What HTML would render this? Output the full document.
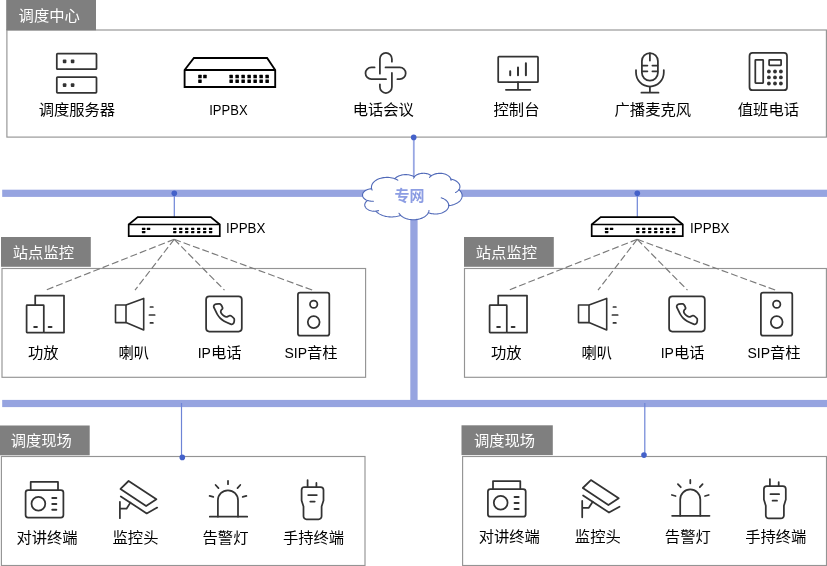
<!DOCTYPE html><html><head><meta charset="utf-8"><title>调度系统拓扑</title><style>html,body{margin:0;padding:0;background:#fff}svg{display:block;will-change:transform}text{font-family:"Liberation Sans","Noto Sans CJK SC",sans-serif}</style></head><body>
<svg width="827" height="566" viewBox="0 0 827 566">
<rect width="827" height="566" fill="#fff"/>
<rect x="2.2" y="189.7" width="826" height="7.2" fill="#96a4e0"/>
<rect x="2.2" y="399.9" width="826" height="7.2" fill="#96a4e0"/>
<rect x="410.3" y="193" width="7.3" height="210" fill="#96a4e0"/>
<rect x="6.9" y="30" width="819.5" height="107.1" fill="#fff" stroke="#949494" stroke-width="1.15"/>
<rect x="6.2" y="-0.5" width="89.8" height="30.8" fill="#7f7f7f"/>
<text x="18.6" y="20.6" font-size="15.3" fill="#fff">调度中心</text>
<line x1="413.8" y1="137.5" x2="413.8" y2="178.5" stroke="#98a7e3" stroke-width="1.8"/>
<path d="M371.58,188.58 L371.45,187.66 L371.46,186.75 L371.60,185.83 L371.88,184.93 L372.28,184.05 L372.82,183.19 L373.47,182.37 L374.25,181.60 L375.13,180.87 L376.12,180.19 L377.20,179.58 L378.37,179.04 L379.61,178.56 L380.91,178.17 L382.27,177.85 L383.67,177.61 L385.10,177.45 L386.54,177.39 L387.99,177.40 L389.43,177.50 L390.85,177.69 L392.23,177.96 L393.57,178.31 L394.86,178.73 L395.34,178.21 L395.88,177.71 L396.48,177.25 L397.13,176.81 L397.84,176.40 L398.59,176.03 L399.39,175.70 L400.22,175.41 L401.09,175.16 L401.99,174.96 L402.90,174.80 L403.84,174.68 L404.78,174.61 L405.74,174.59 L406.69,174.62 L407.63,174.69 L408.56,174.81 L409.48,174.97 L410.37,175.18 L411.24,175.43 L412.07,175.72 L412.87,176.06 L413.62,176.43 L414.32,176.83 L414.73,176.36 L415.20,175.91 L415.73,175.49 L416.32,175.10 L416.95,174.74 L417.63,174.42 L418.35,174.13 L419.11,173.89 L419.89,173.68 L420.70,173.52 L421.53,173.40 L422.37,173.33 L423.22,173.30 L424.07,173.32 L424.91,173.38 L425.74,173.49 L426.56,173.64 L427.35,173.84 L428.11,174.07 L428.84,174.35 L429.53,174.66 L430.17,175.01 L430.77,175.40 L431.31,175.81 L432.03,175.32 L432.82,174.88 L433.67,174.49 L434.57,174.15 L435.52,173.86 L436.51,173.63 L437.53,173.46 L438.57,173.36 L439.62,173.31 L440.67,173.33 L441.72,173.41 L442.75,173.55 L443.75,173.76 L444.72,174.02 L445.65,174.34 L446.52,174.71 L447.33,175.13 L448.08,175.60 L448.76,176.11 L449.35,176.66 L449.87,177.24 L450.29,177.85 L450.62,178.49 L450.86,179.14 L451.69,179.30 L452.51,179.50 L453.30,179.74 L454.06,180.02 L454.79,180.33 L455.48,180.67 L456.13,181.04 L456.74,181.44 L457.30,181.86 L457.82,182.31 L458.28,182.78 L458.69,183.28 L459.04,183.78 L459.34,184.31 L459.57,184.84 L459.75,185.39 L459.86,185.94 L459.91,186.50 L459.90,187.05 L459.82,187.61 L459.69,188.16 L459.49,188.70 L459.23,189.23 L458.92,189.75 L459.70,190.45 L460.37,191.20 L460.95,191.98 L461.41,192.78 L461.77,193.61 L462.01,194.46 L462.13,195.31 L462.13,196.17 L462.02,197.03 L461.79,197.88 L461.45,198.71 L460.99,199.52 L460.43,200.30 L459.76,201.04 L458.99,201.75 L458.13,202.41 L457.18,203.03 L456.15,203.58 L455.04,204.08 L453.88,204.52 L452.65,204.89 L451.39,205.19 L450.08,205.42 L448.75,205.58 L448.69,206.33 L448.52,207.07 L448.26,207.79 L447.89,208.50 L447.43,209.19 L446.87,209.85 L446.22,210.47 L445.49,211.05 L444.68,211.59 L443.80,212.09 L442.85,212.53 L441.84,212.92 L440.79,213.25 L439.69,213.52 L438.56,213.73 L437.40,213.87 L436.23,213.95 L435.06,213.96 L433.88,213.91 L432.72,213.79 L431.58,213.60 L430.47,213.36 L429.40,213.05 L428.37,212.68 L427.88,213.56 L427.27,214.40 L426.53,215.21 L425.67,215.96 L424.71,216.66 L423.65,217.30 L422.50,217.88 L421.27,218.38 L419.97,218.81 L418.61,219.16 L417.21,219.42 L415.77,219.60 L414.32,219.69 L412.86,219.70 L411.40,219.62 L409.96,219.45 L408.55,219.20 L407.19,218.86 L405.88,218.44 L404.64,217.95 L403.48,217.39 L402.40,216.75 L401.43,216.06 L400.56,215.31 L399.53,215.68 L398.46,216.00 L397.37,216.27 L396.24,216.50 L395.10,216.68 L393.94,216.81 L392.77,216.90 L391.59,216.93 L390.41,216.91 L389.23,216.85 L388.07,216.73 L386.92,216.57 L385.79,216.35 L384.68,216.09 L383.61,215.79 L382.56,215.43 L381.56,215.04 L380.60,214.60 L379.69,214.13 L378.83,213.62 L378.02,213.07 L377.27,212.49 L376.59,211.88 L375.97,211.24 L374.95,211.28 L373.93,211.26 L372.92,211.17 L371.93,211.02 L370.97,210.80 L370.05,210.52 L369.17,210.19 L368.36,209.80 L367.61,209.36 L366.93,208.88 L366.34,208.35 L365.84,207.79 L365.42,207.20 L365.11,206.59 L364.89,205.96 L364.78,205.31 L364.77,204.67 L364.86,204.02 L365.05,203.39 L365.35,202.77 L365.75,202.18 L366.23,201.61 L366.81,201.08 L367.47,200.58 L366.59,200.22 L365.79,199.79 L365.05,199.32 L364.40,198.80 L363.83,198.24 L363.36,197.64 L362.99,197.02 L362.73,196.37 L362.57,195.71 L362.52,195.05 L362.58,194.38 L362.74,193.72 L363.02,193.08 L363.40,192.46 L363.88,191.86 L364.45,191.30 L365.11,190.79 L365.85,190.32 L366.67,189.90 L367.54,189.54 L368.48,189.24 L369.45,189.00 L370.47,188.83 L371.50,188.72Z" fill="#fff" stroke="#5069b8" stroke-width="1.1" stroke-linejoin="round"/>
<path d="M373.41,201.26 L373.16,201.27 L372.90,201.28 L372.65,201.28 L372.40,201.28 L372.14,201.27 L371.89,201.26 L371.64,201.25 L371.39,201.23 L371.14,201.21 L370.89,201.18 L370.64,201.15 L370.39,201.12 L370.14,201.08 L369.90,201.04 L369.66,200.99 L369.41,200.94 L369.18,200.89 L368.94,200.83 L368.71,200.77 L368.47,200.70 L368.24,200.63 L368.02,200.56 L367.79,200.48 L367.57,200.40" fill="none" stroke="#5069b8" stroke-width="1.1" stroke-linecap="round"/>
<path d="M378.56,210.62 L378.45,210.65 L378.35,210.68 L378.25,210.70 L378.14,210.72 L378.04,210.75 L377.94,210.77 L377.83,210.79 L377.73,210.81 L377.62,210.83 L377.51,210.85 L377.41,210.87 L377.30,210.88 L377.20,210.90 L377.09,210.92 L376.98,210.93 L376.87,210.95 L376.77,210.96 L376.66,210.97 L376.55,210.98 L376.44,211.00 L376.33,211.01 L376.22,211.02 L376.11,211.03 L376.00,211.03" fill="none" stroke="#5069b8" stroke-width="1.1" stroke-linecap="round"/>
<path d="M400.55,215.13 L400.48,215.05 L400.40,214.98 L400.33,214.90 L400.25,214.83 L400.18,214.75 L400.11,214.68 L400.04,214.60 L399.97,214.53 L399.90,214.45 L399.84,214.37 L399.77,214.30 L399.71,214.22 L399.64,214.14 L399.58,214.06 L399.52,213.98 L399.46,213.90 L399.40,213.82 L399.34,213.74 L399.28,213.66 L399.23,213.58 L399.17,213.50 L399.12,213.42 L399.07,213.34 L399.01,213.26" fill="none" stroke="#5069b8" stroke-width="1.1" stroke-linecap="round"/>
<path d="M429.00,210.47 L428.98,210.55 L428.97,210.64 L428.96,210.73 L428.94,210.81 L428.92,210.90 L428.91,210.99 L428.89,211.07 L428.87,211.16 L428.85,211.24 L428.82,211.33 L428.80,211.42 L428.77,211.50 L428.75,211.59 L428.72,211.67 L428.69,211.76 L428.66,211.84 L428.63,211.93 L428.60,212.01 L428.57,212.10 L428.53,212.18 L428.50,212.27 L428.46,212.35 L428.42,212.43 L428.38,212.52" fill="none" stroke="#5069b8" stroke-width="1.1" stroke-linecap="round"/>
<path d="M441.21,197.80 L441.76,197.98 L442.30,198.18 L442.83,198.39 L443.34,198.62 L443.83,198.87 L444.30,199.12 L444.76,199.40 L445.19,199.68 L445.60,199.98 L445.99,200.29 L446.36,200.61 L446.70,200.94 L447.01,201.28 L447.31,201.63 L447.57,201.99 L447.81,202.36 L448.02,202.73 L448.20,203.11 L448.36,203.50 L448.48,203.88 L448.58,204.28 L448.65,204.67 L448.69,205.06 L448.70,205.46" fill="none" stroke="#5069b8" stroke-width="1.1" stroke-linecap="round"/>
<path d="M458.87,189.64 L458.78,189.77 L458.68,189.91 L458.57,190.05 L458.47,190.18 L458.35,190.31 L458.24,190.44 L458.12,190.57 L458.00,190.70 L457.87,190.83 L457.74,190.95 L457.60,191.07 L457.47,191.20 L457.32,191.32 L457.18,191.43 L457.03,191.55 L456.88,191.66 L456.72,191.78 L456.56,191.89 L456.40,192.00 L456.23,192.10 L456.06,192.21 L455.89,192.31 L455.71,192.41 L455.54,192.51" fill="none" stroke="#5069b8" stroke-width="1.1" stroke-linecap="round"/>
<path d="M450.87,178.98 L450.88,179.03 L450.90,179.09 L450.91,179.14 L450.93,179.20 L450.94,179.26 L450.95,179.31 L450.96,179.37 L450.97,179.42 L450.98,179.48 L450.99,179.54 L451.00,179.59 L451.01,179.65 L451.02,179.71 L451.02,179.76 L451.03,179.82 L451.03,179.88 L451.04,179.93 L451.04,179.99 L451.04,180.05 L451.04,180.11 L451.05,180.16 L451.05,180.22 L451.05,180.28 L451.05,180.33" fill="none" stroke="#5069b8" stroke-width="1.1" stroke-linecap="round"/>
<path d="M429.57,177.39 L429.63,177.31 L429.69,177.24 L429.74,177.16 L429.80,177.08 L429.86,177.01 L429.93,176.93 L429.99,176.86 L430.05,176.78 L430.12,176.71 L430.19,176.63 L430.26,176.56 L430.33,176.49 L430.40,176.42 L430.47,176.34 L430.55,176.27 L430.63,176.20 L430.70,176.13 L430.78,176.06 L430.86,176.00 L430.94,175.93 L431.03,175.86 L431.11,175.79 L431.20,175.73 L431.28,175.66" fill="none" stroke="#5069b8" stroke-width="1.1" stroke-linecap="round"/>
<path d="M413.60,178.22 L413.62,178.15 L413.64,178.09 L413.67,178.02 L413.69,177.96 L413.72,177.90 L413.75,177.83 L413.78,177.77 L413.81,177.71 L413.84,177.64 L413.87,177.58 L413.90,177.52 L413.94,177.45 L413.97,177.39 L414.01,177.33 L414.04,177.27 L414.08,177.21 L414.12,177.15 L414.16,177.08 L414.20,177.02 L414.25,176.96 L414.29,176.90 L414.33,176.84 L414.38,176.78 L414.42,176.72" fill="none" stroke="#5069b8" stroke-width="1.1" stroke-linecap="round"/>
<path d="M394.85,178.72 L394.98,178.77 L395.12,178.83 L395.25,178.88 L395.38,178.93 L395.51,178.99 L395.64,179.04 L395.77,179.10 L395.90,179.15 L396.03,179.21 L396.16,179.27 L396.29,179.33 L396.41,179.39 L396.54,179.45 L396.66,179.51 L396.78,179.58 L396.90,179.64 L397.02,179.70 L397.14,179.77 L397.26,179.83 L397.38,179.90 L397.50,179.97 L397.61,180.03 L397.73,180.10 L397.84,180.17" fill="none" stroke="#5069b8" stroke-width="1.1" stroke-linecap="round"/>
<path d="M372.11,190.10 L372.08,190.04 L372.05,189.98 L372.02,189.92 L371.99,189.85 L371.97,189.79 L371.94,189.73 L371.91,189.66 L371.89,189.60 L371.87,189.54 L371.84,189.48 L371.82,189.41 L371.80,189.35 L371.78,189.28 L371.75,189.22 L371.73,189.16 L371.71,189.09 L371.70,189.03 L371.68,188.97 L371.66,188.90 L371.64,188.84 L371.63,188.77 L371.61,188.71 L371.60,188.64 L371.58,188.58" fill="none" stroke="#5069b8" stroke-width="1.1" stroke-linecap="round"/>
<text x="409.5" y="200.8" font-size="15" font-weight="bold" fill="#8c9de3" text-anchor="middle">专网</text>
<circle cx="413.7" cy="137.4" r="2.8" fill="#4461c9"/>
<g fill="none" stroke="#333" stroke-width="1.75" stroke-linejoin="round">
<rect x="56.8" y="53.6" width="39.7" height="15.6" rx="0.8"/>
<rect x="56.8" y="77.1" width="39.7" height="15.7" rx="0.8"/>
</g>
<rect x="62.8" y="59.6" width="3.6" height="3.6" rx="0.9" fill="#333"/>
<rect x="70.8" y="59.6" width="3.6" height="3.6" rx="0.9" fill="#333"/>
<rect x="62.8" y="83.3" width="3.6" height="3.6" rx="0.9" fill="#333"/>
<rect x="70.8" y="83.3" width="3.6" height="3.6" rx="0.9" fill="#333"/>
<text x="76.9" y="115.4" font-size="15.3" text-anchor="middle" fill="#000">调度服务器</text>
<g fill="none" stroke="#000" stroke-width="1.85" stroke-linejoin="miter">
<path d="M184.60000000000002,87 L184.60000000000002,70 L193.9,58 L267.1,58 L275.2,70 L275.2,87 Z" fill="#fff"/>
<path d="M184.60000000000002,70 H275.2"/>
</g>
<rect x="198.20" y="74.80" width="3.5" height="3.5" rx="0.4" fill="#000"/>
<rect x="203.20" y="74.80" width="3.5" height="3.5" rx="0.4" fill="#000"/>
<rect x="198.20" y="79.40" width="3.5" height="3.5" rx="0.4" fill="#000"/>
<rect x="229.40" y="74.80" width="3.5" height="3.5" rx="0.4" fill="#000"/>
<rect x="235.40" y="74.80" width="3.5" height="3.5" rx="0.4" fill="#000"/>
<rect x="241.40" y="74.80" width="3.5" height="3.5" rx="0.4" fill="#000"/>
<rect x="247.40" y="74.80" width="3.5" height="3.5" rx="0.4" fill="#000"/>
<rect x="253.40" y="74.80" width="3.5" height="3.5" rx="0.4" fill="#000"/>
<rect x="259.40" y="74.80" width="3.5" height="3.5" rx="0.4" fill="#000"/>
<rect x="265.40" y="74.80" width="3.5" height="3.5" rx="0.4" fill="#000"/>
<rect x="229.40" y="79.40" width="3.5" height="3.5" rx="0.4" fill="#000"/>
<rect x="235.40" y="79.40" width="3.5" height="3.5" rx="0.4" fill="#000"/>
<rect x="241.40" y="79.40" width="3.5" height="3.5" rx="0.4" fill="#000"/>
<rect x="247.40" y="79.40" width="3.5" height="3.5" rx="0.4" fill="#000"/>
<rect x="253.40" y="79.40" width="3.5" height="3.5" rx="0.4" fill="#000"/>
<rect x="259.40" y="79.40" width="3.5" height="3.5" rx="0.4" fill="#000"/>
<rect x="265.40" y="79.40" width="3.5" height="3.5" rx="0.4" fill="#000"/>
<text x="228.4" y="114.6" font-size="14.4" text-anchor="middle" fill="#000" textLength="38.4" lengthAdjust="spacingAndGlyphs">IPPBX</text>
<g fill="none" stroke="#333" stroke-width="1.75" stroke-linecap="round">
<path d="M379.9,73.7 V58.9 A6,6 0 0 1 391.9,58.9 V61.7"/>
<path d="M385.5,67.4 H399.8 A5.9,5.9 0 0 1 399.8,79.2 H397.4"/>
<path d="M391.9,72.9 V87 A6,6 0 0 1 379.9,87 V84.3"/>
<path d="M386,79.2 H371.4 A5.9,5.9 0 0 1 371.4,67.4 H374.6"/>
</g>
<text x="383.3" y="115.4" font-size="15.3" text-anchor="middle" fill="#000">电话会议</text>
<g fill="none" stroke="#333" stroke-width="1.75" stroke-linecap="round" stroke-linejoin="round">
<rect x="498.2" y="56.6" width="39.8" height="25.6" rx="0.8"/>
<path d="M518,82.2 V89.6 M505.9,89.8 H530.3"/>
</g>
<g fill="none" stroke="#333" stroke-width="2" stroke-linecap="round">
<path d="M510.2,71.2 V75.2 M518,67.4 V75.2 M525.9,63.2 V75.2"/>
</g>
<text x="516.5" y="115.4" font-size="15.3" text-anchor="middle" fill="#000">控制台</text>
<g fill="none" stroke="#333" stroke-width="1.75" stroke-linecap="round">
<rect x="641.9" y="53" width="16" height="27.7" rx="8"/>
<path d="M649.9,53.4 V60.5 M642.3,65.5 H647.4 M652.4,65.5 H657.5 M642.3,71.3 H647.4 M652.4,71.3 H657.5"/>
<path d="M636,70 V72.6 A13.9,13.9 0 0 0 663.8,72.6 V70"/>
<path d="M649.9,86.6 V92.5 M641.4,92.7 H658.5"/>
</g>
<text x="652.8" y="115.4" font-size="15.3" text-anchor="middle" fill="#000">广播麦克风</text>
<g fill="none" stroke="#333" stroke-width="1.75" stroke-linejoin="round">
<rect x="749.5" y="52.9" width="37.5" height="37.3" rx="3"/>
<rect x="755.3" y="59.8" width="7.9" height="23.3" rx="0.5"/>
<rect x="769.1" y="59.8" width="12" height="5.5" rx="0.5"/>
</g>
<circle cx="768.9" cy="71.5" r="1.9" fill="#333"/>
<circle cx="768.9" cy="77.4" r="1.9" fill="#333"/>
<circle cx="768.9" cy="83.5" r="1.9" fill="#333"/>
<circle cx="775" cy="71.5" r="1.9" fill="#333"/>
<circle cx="775" cy="77.4" r="1.9" fill="#333"/>
<circle cx="775" cy="83.5" r="1.9" fill="#333"/>
<circle cx="780.9" cy="71.5" r="1.9" fill="#333"/>
<circle cx="780.9" cy="77.4" r="1.9" fill="#333"/>
<circle cx="780.9" cy="83.5" r="1.9" fill="#333"/>
<text x="768.4" y="115.4" font-size="15.3" text-anchor="middle" fill="#000">值班电话</text>
<line x1="174.3" y1="193" x2="174.3" y2="217" stroke="#6d84d6" stroke-width="1.2"/>
<circle cx="174.3" cy="193.3" r="2.8" fill="#4461c9"/>
<rect x="2" y="268.5" width="363.6" height="108.8" fill="#fff" stroke="#949494" stroke-width="1.15"/>
<g stroke="#7a7a7a" stroke-width="1.15" stroke-dasharray="7 3" fill="none">
<line x1="174.2" y1="239.3" x2="46" y2="290"/>
<line x1="174.2" y1="239.3" x2="135" y2="290.2"/>
<line x1="174.2" y1="239.3" x2="224.5" y2="290.2"/>
<line x1="174.2" y1="239.3" x2="312.3" y2="290.1"/>
</g>
<rect x="1" y="237" width="89.8" height="29.8" fill="#7f7f7f"/>
<text x="12.8" y="258.3" font-size="15.3" fill="#fff">站点监控</text>
<g fill="none" stroke="#000" stroke-width="1.7" stroke-linejoin="miter">
<path d="M128.7,236.2 L128.7,224.5 L137.7,217.1 L210.8,217.1 L219.8,224.5 L219.8,236.2 Z" fill="#fff"/>
<path d="M128.7,224.5 H219.8"/>
</g>
<rect x="141.90" y="227.70" width="3.5" height="2.2" rx="0.4" fill="#000"/>
<rect x="146.80" y="227.70" width="3.5" height="2.2" rx="0.4" fill="#000"/>
<rect x="141.90" y="231.00" width="3.5" height="2.2" rx="0.4" fill="#000"/>
<rect x="173.10" y="227.70" width="3.3" height="2.2" rx="0.4" fill="#000"/>
<rect x="179.08" y="227.70" width="3.3" height="2.2" rx="0.4" fill="#000"/>
<rect x="185.06" y="227.70" width="3.3" height="2.2" rx="0.4" fill="#000"/>
<rect x="191.04" y="227.70" width="3.3" height="2.2" rx="0.4" fill="#000"/>
<rect x="197.02" y="227.70" width="3.3" height="2.2" rx="0.4" fill="#000"/>
<rect x="203.00" y="227.70" width="3.3" height="2.2" rx="0.4" fill="#000"/>
<rect x="208.98" y="227.70" width="3.3" height="2.2" rx="0.4" fill="#000"/>
<rect x="173.10" y="231.00" width="3.3" height="2.2" rx="0.4" fill="#000"/>
<rect x="179.08" y="231.00" width="3.3" height="2.2" rx="0.4" fill="#000"/>
<rect x="185.06" y="231.00" width="3.3" height="2.2" rx="0.4" fill="#000"/>
<rect x="191.04" y="231.00" width="3.3" height="2.2" rx="0.4" fill="#000"/>
<rect x="197.02" y="231.00" width="3.3" height="2.2" rx="0.4" fill="#000"/>
<rect x="203.00" y="231.00" width="3.3" height="2.2" rx="0.4" fill="#000"/>
<rect x="208.98" y="231.00" width="3.3" height="2.2" rx="0.4" fill="#000"/>
<text x="226.0" y="232.7" font-size="14.2" text-anchor="start" fill="#000" textLength="39.4" lengthAdjust="spacingAndGlyphs">IPPBX</text>
<g transform="translate(0,0)">
<g fill="none" stroke="#333" stroke-width="1.75" stroke-linejoin="round">
<path d="M35.2,305.2 V295.5 H64 V332.6 H43.8"/>
<rect x="26.6" y="305.2" width="17.2" height="27.4" rx="0.5"/>
</g>
<path d="M34.2,326.9 H36.9 M48.7,326.9 H51.5" stroke="#333" stroke-width="2" stroke-linecap="round"/>
<g fill="none" stroke="#333" stroke-width="1.6" stroke-linejoin="round">
<rect x="115.5" y="305" width="10.5" height="17.6"/>
<path d="M126,305 L143.7,298.4 V330 L126,322.6"/>
</g>
<path d="M150.4,307 H152.9 M149.4,315 H154.7 M150.4,322.9 H152.9" stroke="#333" stroke-width="1.7" stroke-linecap="round"/>
<g fill="none" stroke="#333" stroke-width="1.75" stroke-linejoin="round">
<rect x="206.1" y="296.3" width="35.7" height="35.2" rx="3.2"/>
<path d="M214.22,305.07 C214.59,304.61 215.02,304.25 215.91,304.05 C216.81,303.85 218.76,303.78 219.59,303.88 C220.42,303.98 220.42,304.10 220.89,304.67 C221.36,305.25 222.14,306.67 222.41,307.33 C222.69,307.99 222.73,308.16 222.53,308.63 C222.33,309.10 221.53,309.62 221.23,310.15 C220.93,310.69 220.62,311.22 220.72,311.85 C220.82,312.48 221.28,313.23 221.85,313.94 C222.41,314.65 223.36,315.58 224.11,316.09 C224.86,316.60 225.71,316.94 226.37,316.99 C227.03,317.05 227.50,316.65 228.07,316.43 C228.63,316.20 229.31,315.73 229.76,315.64 C230.22,315.54 230.17,315.51 230.78,315.86 C231.39,316.22 232.87,317.30 233.44,317.79 C234.00,318.28 234.03,318.33 234.17,318.80 C234.31,319.27 234.33,319.98 234.29,320.61 C234.24,321.24 234.13,322.04 233.89,322.59 C233.65,323.14 233.30,323.61 232.87,323.89 C232.45,324.17 232.19,324.46 231.35,324.29 C230.50,324.12 229.04,323.44 227.79,322.87 C226.53,322.31 225.10,321.70 223.83,320.89 C222.56,320.09 221.24,319.15 220.15,318.07 C219.07,316.98 218.18,315.76 217.33,314.39 C216.48,313.03 215.67,311.14 215.07,309.87 C214.46,308.60 213.85,307.56 213.71,306.76 C213.57,305.96 213.85,305.52 214.22,305.07Z"/>
</g>
<g fill="none" stroke="#333" stroke-width="1.75">
<rect x="297.9" y="292.6" width="31.4" height="43.1" rx="2.2"/>
<circle cx="313.7" cy="304.3" r="3.7"/>
<circle cx="313.7" cy="322.1" r="5.9"/>
</g>
</g>
<text x="43.2" y="357.9" font-size="15.3" text-anchor="middle" fill="#000">功放</text>
<text x="133.8" y="357.9" font-size="15.3" text-anchor="middle" fill="#000">喇叭</text>
<text x="219.6" y="357.9" font-size="15.3" text-anchor="middle" fill="#000"><tspan font-size="14">IP</tspan>电话</text>
<text x="311" y="357.9" font-size="15.3" text-anchor="middle" fill="#000"><tspan font-size="14">SIP</tspan>音柱</text>
<line x1="637.3" y1="193" x2="637.3" y2="217" stroke="#6d84d6" stroke-width="1.2"/>
<circle cx="637.3" cy="193.3" r="2.8" fill="#4461c9"/>
<rect x="464.5" y="268.5" width="361.9" height="108.8" fill="#fff" stroke="#949494" stroke-width="1.15"/>
<g stroke="#7a7a7a" stroke-width="1.15" stroke-dasharray="7 3" fill="none">
<line x1="637.2" y1="239.3" x2="509.0" y2="290"/>
<line x1="637.2" y1="239.3" x2="598.0" y2="290.2"/>
<line x1="637.2" y1="239.3" x2="687.5" y2="290.2"/>
<line x1="637.2" y1="239.3" x2="775.3" y2="290.1"/>
</g>
<rect x="464.0" y="237" width="89.8" height="29.8" fill="#7f7f7f"/>
<text x="475.8" y="258.3" font-size="15.3" fill="#fff">站点监控</text>
<g fill="none" stroke="#000" stroke-width="1.7" stroke-linejoin="miter">
<path d="M591.7,236.2 L591.7,224.5 L600.7,217.1 L673.8,217.1 L682.8,224.5 L682.8,236.2 Z" fill="#fff"/>
<path d="M591.7,224.5 H682.8"/>
</g>
<rect x="604.90" y="227.70" width="3.5" height="2.2" rx="0.4" fill="#000"/>
<rect x="609.80" y="227.70" width="3.5" height="2.2" rx="0.4" fill="#000"/>
<rect x="604.90" y="231.00" width="3.5" height="2.2" rx="0.4" fill="#000"/>
<rect x="636.10" y="227.70" width="3.3" height="2.2" rx="0.4" fill="#000"/>
<rect x="642.08" y="227.70" width="3.3" height="2.2" rx="0.4" fill="#000"/>
<rect x="648.06" y="227.70" width="3.3" height="2.2" rx="0.4" fill="#000"/>
<rect x="654.04" y="227.70" width="3.3" height="2.2" rx="0.4" fill="#000"/>
<rect x="660.02" y="227.70" width="3.3" height="2.2" rx="0.4" fill="#000"/>
<rect x="666.00" y="227.70" width="3.3" height="2.2" rx="0.4" fill="#000"/>
<rect x="671.98" y="227.70" width="3.3" height="2.2" rx="0.4" fill="#000"/>
<rect x="636.10" y="231.00" width="3.3" height="2.2" rx="0.4" fill="#000"/>
<rect x="642.08" y="231.00" width="3.3" height="2.2" rx="0.4" fill="#000"/>
<rect x="648.06" y="231.00" width="3.3" height="2.2" rx="0.4" fill="#000"/>
<rect x="654.04" y="231.00" width="3.3" height="2.2" rx="0.4" fill="#000"/>
<rect x="660.02" y="231.00" width="3.3" height="2.2" rx="0.4" fill="#000"/>
<rect x="666.00" y="231.00" width="3.3" height="2.2" rx="0.4" fill="#000"/>
<rect x="671.98" y="231.00" width="3.3" height="2.2" rx="0.4" fill="#000"/>
<text x="690.1" y="232.7" font-size="14.2" text-anchor="start" fill="#000" textLength="39.4" lengthAdjust="spacingAndGlyphs">IPPBX</text>
<g transform="translate(463.0,0)">
<g fill="none" stroke="#333" stroke-width="1.75" stroke-linejoin="round">
<path d="M35.2,305.2 V295.5 H64 V332.6 H43.8"/>
<rect x="26.6" y="305.2" width="17.2" height="27.4" rx="0.5"/>
</g>
<path d="M34.2,326.9 H36.9 M48.7,326.9 H51.5" stroke="#333" stroke-width="2" stroke-linecap="round"/>
<g fill="none" stroke="#333" stroke-width="1.6" stroke-linejoin="round">
<rect x="115.5" y="305" width="10.5" height="17.6"/>
<path d="M126,305 L143.7,298.4 V330 L126,322.6"/>
</g>
<path d="M150.4,307 H152.9 M149.4,315 H154.7 M150.4,322.9 H152.9" stroke="#333" stroke-width="1.7" stroke-linecap="round"/>
<g fill="none" stroke="#333" stroke-width="1.75" stroke-linejoin="round">
<rect x="206.1" y="296.3" width="35.7" height="35.2" rx="3.2"/>
<path d="M214.22,305.07 C214.59,304.61 215.02,304.25 215.91,304.05 C216.81,303.85 218.76,303.78 219.59,303.88 C220.42,303.98 220.42,304.10 220.89,304.67 C221.36,305.25 222.14,306.67 222.41,307.33 C222.69,307.99 222.73,308.16 222.53,308.63 C222.33,309.10 221.53,309.62 221.23,310.15 C220.93,310.69 220.62,311.22 220.72,311.85 C220.82,312.48 221.28,313.23 221.85,313.94 C222.41,314.65 223.36,315.58 224.11,316.09 C224.86,316.60 225.71,316.94 226.37,316.99 C227.03,317.05 227.50,316.65 228.07,316.43 C228.63,316.20 229.31,315.73 229.76,315.64 C230.22,315.54 230.17,315.51 230.78,315.86 C231.39,316.22 232.87,317.30 233.44,317.79 C234.00,318.28 234.03,318.33 234.17,318.80 C234.31,319.27 234.33,319.98 234.29,320.61 C234.24,321.24 234.13,322.04 233.89,322.59 C233.65,323.14 233.30,323.61 232.87,323.89 C232.45,324.17 232.19,324.46 231.35,324.29 C230.50,324.12 229.04,323.44 227.79,322.87 C226.53,322.31 225.10,321.70 223.83,320.89 C222.56,320.09 221.24,319.15 220.15,318.07 C219.07,316.98 218.18,315.76 217.33,314.39 C216.48,313.03 215.67,311.14 215.07,309.87 C214.46,308.60 213.85,307.56 213.71,306.76 C213.57,305.96 213.85,305.52 214.22,305.07Z"/>
</g>
<g fill="none" stroke="#333" stroke-width="1.75">
<rect x="297.9" y="292.6" width="31.4" height="43.1" rx="2.2"/>
<circle cx="313.7" cy="304.3" r="3.7"/>
<circle cx="313.7" cy="322.1" r="5.9"/>
</g>
</g>
<text x="506.2" y="357.9" font-size="15.3" text-anchor="middle" fill="#000">功放</text>
<text x="596.8" y="357.9" font-size="15.3" text-anchor="middle" fill="#000">喇叭</text>
<text x="682.6" y="357.9" font-size="15.3" text-anchor="middle" fill="#000"><tspan font-size="14">IP</tspan>电话</text>
<text x="774.0" y="357.9" font-size="15.3" text-anchor="middle" fill="#000"><tspan font-size="14">SIP</tspan>音柱</text>
<line x1="181.5" y1="403" x2="181.5" y2="457" stroke="#6d84d6" stroke-width="1.2"/>
<rect x="1.4" y="456.5" width="363.6" height="109" fill="#fff" stroke="#949494" stroke-width="1.15"/>
<circle cx="182.3" cy="457.4" r="2.8" fill="#4461c9"/>
<rect x="-1.6" y="425.5" width="91.3" height="29.8" fill="#7f7f7f"/>
<text x="10.7" y="445.79999999999995" font-size="15.3" fill="#fff">调度现场</text>
<g transform="translate(0,0)">
<g fill="none" stroke="#333" stroke-width="1.75" stroke-linejoin="round">
<rect x="25.6" y="490" width="37.8" height="27.6" rx="2.5"/>
<path d="M30.7,490 V481.9 H58 V490"/>
<circle cx="38.4" cy="503.7" r="6.9"/>
</g>
<path d="M52.3,497.9 H56.3 M52.3,503.9 H56.3 M52.3,509.8 H56.3" stroke="#333" stroke-width="2" stroke-linecap="round"/>
<g fill="none" stroke="#333" stroke-width="1.75" stroke-linejoin="round" stroke-linecap="round">
<path d="M128.6,481 L156.4,499.2 L146.1,506 L120.5,488.9 Z"/>
<path d="M120.8,496.4 L146.7,513.4 L157.2,507.6"/>
<path d="M119.9,501.8 V518.2 M119.9,508.7 H126.5 L130.4,502.6"/>
</g>
<g fill="none" stroke="#333" stroke-width="1.75" stroke-linecap="round">
<path d="M209.8,516.7 H247.2"/>
<path d="M217.9,516.7 V500.3 A10.05,10.05 0 0 1 238,500.3 V516.7"/>
<path d="M228,480.8 V484.2 M215.6,485 L218.5,488.1 M240.3,485 L237.5,488.1 M209.6,495.9 L213.3,496.9 M246.4,495.9 L242.7,496.9"/>
</g>
<g fill="none" stroke="#333" stroke-width="1.75" stroke-linecap="round" stroke-linejoin="round">
<path d="M304.5,487 H320.5 A3,3 0 0 1 323.5,490 V500.5 L321.6,506.6 V516.3 A3,3 0 0 1 318.6,519.3 H306.5 A3,3 0 0 1 303.5,516.3 V506.6 L301.6,500.5 V490 A3,3 0 0 1 304.5,487 Z"/>
<path d="M307.6,480 V487 M316.4,482.9 V487"/>
</g>
<path d="M308.2,495.1 H316.8 M310.3,501.6 H314.7" stroke="#333" stroke-width="1.8" stroke-linecap="round"/>
</g>
<text x="47" y="542.6" font-size="15.3" text-anchor="middle" fill="#000">对讲终端</text>
<text x="135.5" y="542.6" font-size="15.3" text-anchor="middle" fill="#000">监控头</text>
<text x="225.5" y="542.6" font-size="15.3" text-anchor="middle" fill="#000">告警灯</text>
<text x="313.5" y="542.6" font-size="15.3" text-anchor="middle" fill="#000">手持终端</text>
<line x1="644.8" y1="403" x2="644.8" y2="455" stroke="#6d84d6" stroke-width="1.2"/>
<rect x="462.6" y="456.5" width="363.9" height="109" fill="#fff" stroke="#949494" stroke-width="1.15"/>
<circle cx="644.0" cy="455.1" r="2.8" fill="#4461c9"/>
<rect x="461.5" y="425.3" width="91.3" height="29.8" fill="#7f7f7f"/>
<text x="473.9" y="445.59999999999997" font-size="15.3" fill="#fff">调度现场</text>
<g transform="translate(462.3,-0.9)">
<g fill="none" stroke="#333" stroke-width="1.75" stroke-linejoin="round">
<rect x="25.6" y="490" width="37.8" height="27.6" rx="2.5"/>
<path d="M30.7,490 V481.9 H58 V490"/>
<circle cx="38.4" cy="503.7" r="6.9"/>
</g>
<path d="M52.3,497.9 H56.3 M52.3,503.9 H56.3 M52.3,509.8 H56.3" stroke="#333" stroke-width="2" stroke-linecap="round"/>
<g fill="none" stroke="#333" stroke-width="1.75" stroke-linejoin="round" stroke-linecap="round">
<path d="M128.6,481 L156.4,499.2 L146.1,506 L120.5,488.9 Z"/>
<path d="M120.8,496.4 L146.7,513.4 L157.2,507.6"/>
<path d="M119.9,501.8 V518.2 M119.9,508.7 H126.5 L130.4,502.6"/>
</g>
<g fill="none" stroke="#333" stroke-width="1.75" stroke-linecap="round">
<path d="M209.8,516.7 H247.2"/>
<path d="M217.9,516.7 V500.3 A10.05,10.05 0 0 1 238,500.3 V516.7"/>
<path d="M228,480.8 V484.2 M215.6,485 L218.5,488.1 M240.3,485 L237.5,488.1 M209.6,495.9 L213.3,496.9 M246.4,495.9 L242.7,496.9"/>
</g>
<g fill="none" stroke="#333" stroke-width="1.75" stroke-linecap="round" stroke-linejoin="round">
<path d="M304.5,487 H320.5 A3,3 0 0 1 323.5,490 V500.5 L321.6,506.6 V516.3 A3,3 0 0 1 318.6,519.3 H306.5 A3,3 0 0 1 303.5,516.3 V506.6 L301.6,500.5 V490 A3,3 0 0 1 304.5,487 Z"/>
<path d="M307.6,480 V487 M316.4,482.9 V487"/>
</g>
<path d="M308.2,495.1 H316.8 M310.3,501.6 H314.7" stroke="#333" stroke-width="1.8" stroke-linecap="round"/>
</g>
<text x="509.3" y="541.7" font-size="15.3" text-anchor="middle" fill="#000">对讲终端</text>
<text x="597.8" y="541.7" font-size="15.3" text-anchor="middle" fill="#000">监控头</text>
<text x="687.8" y="541.7" font-size="15.3" text-anchor="middle" fill="#000">告警灯</text>
<text x="775.8" y="541.7" font-size="15.3" text-anchor="middle" fill="#000">手持终端</text>
</svg></body></html>
